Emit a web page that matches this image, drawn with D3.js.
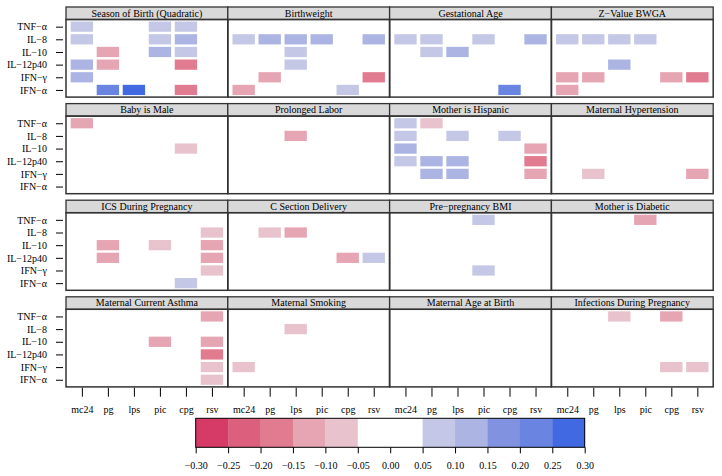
<!DOCTYPE html>
<html><head><meta charset="utf-8">
<script src="https://cdn.jsdelivr.net/npm/d3@7/dist/d3.min.js"></script>
<style>body{margin:0;background:#fff} svg{display:block}</style>
</head><body><svg id="c" width="722" height="476"></svg>
<script>
const stimuli = ["mc24","pg","lps","pic","cpg","rsv"];
const cytokines = ["TNF−α","IL−8","IL−10","IL−12p40","IFN−γ","IFN−α"];
const panelTitles = ["Season of Birth (Quadratic)","Birthweight","Gestational Age","Z−Value BWGA",
  "Baby is Male","Prolonged Labor","Mother is Hispanic","Maternal Hypertension",
  "ICS During Pregnancy","C Section Delivery","Pre−pregnancy BMI","Mother is Diabetic",
  "Maternal Current Asthma","Maternal Smoking","Maternal Age at Birth","Infections During Pregnancy"];
// rows: cytokines, columns: stimuli
const seasonOfBirth = [[0.075,0,0,0.075,0.075,0],[0.075,0,0,0.075,0.125,0],[0,-0.125,0,0.125,0.075,0],[0.125,-0.125,0,0,-0.19,0],[0.125,0,0,0,0,0],[0,0.225,0.275,0,-0.19,0]];
const birthweight = [[0,0,0,0,0,0],[0.075,0.125,0.125,0.125,0,0.125],[0,0,0.075,0,0,0],[0,0,0.075,0,0,0],[0,-0.125,0,0,0,-0.19],[-0.125,0,0,0,0.075,0]];
const gestationalAge = [[0,0,0,0,0,0],[0.075,0.075,0,0.075,0,0.125],[0,0.075,0.125,0,0,0],[0,0,0,0,0,0],[0,0,0,0,0,0],[0,0,0,0,0.225,0]];
const zValueBWGA = [[0,0,0,0,0,0],[0.075,0.075,0.075,0.075,0,0],[0,0,0,0,0,0],[0,0,0.125,0,0,0],[-0.125,-0.125,0,0,-0.125,-0.19],[-0.125,0,0,0,0,0]];
const babyIsMale = [[-0.125,0,0,0,0,0],[0,0,0,0,0,0],[0,0,0,0,-0.075,0],[0,0,0,0,0,0],[0,0,0,0,0,0],[0,0,0,0,0,0]];
const prolongedLabor = [[0,0,0,0,0,0],[0,0,-0.125,0,0,0],[0,0,0,0,0,0],[0,0,0,0,0,0],[0,0,0,0,0,0],[0,0,0,0,0,0]];
const motherHispanic = [[0.075,-0.075,0,0,0,0],[0.075,0,0.075,0,0.075,0],[0.125,0,0,0,0,-0.125],[0.075,0.125,0.125,0,0,-0.19],[0,0.125,0.125,0,0,-0.125],[0,0,0,0,0,0]];
const maternalHypertension = [[0,0,0,0,0,0],[0,0,0,0,0,0],[0,0,0,0,0,0],[0,0,0,0,0,0],[0,-0.075,0,0,0,-0.125],[0,0,0,0,0,0]];
const icsPregnancy = [[0,0,0,0,0,0],[0,0,0,0,0,-0.075],[0,-0.125,0,-0.075,0,-0.125],[0,-0.125,0,0,0,-0.125],[0,0,0,0,0,-0.075],[0,0,0,0,0.075,0]];
const cSection = [[0,0,0,0,0,0],[0,-0.075,-0.125,0,0,0],[0,0,0,0,0,0],[0,0,0,0,-0.125,0.075],[0,0,0,0,0,0],[0,0,0,0,0,0]];
const prePregnancyBMI = [[0,0,0,0.075,0,0],[0,0,0,0,0,0],[0,0,0,0,0,0],[0,0,0,0,0,0],[0,0,0,0.075,0,0],[0,0,0,0,0,0]];
const motherDiabetic = [[0,0,0,-0.125,0,0],[0,0,0,0,0,0],[0,0,0,0,0,0],[0,0,0,0,0,0],[0,0,0,0,0,0],[0,0,0,0,0,0]];
const maternalAsthma = [[0,0,0,0,0,-0.125],[0,0,0,0,0,0],[0,0,0,-0.125,0,-0.125],[0,0,0,0,0,-0.19],[0,0,0,0,0,-0.075],[0,0,0,0,0,-0.075]];
const maternalSmoking = [[0,0,0,0,0,0],[0,0,-0.075,0,0,0],[0,0,0,0,0,0],[0,0,0,0,0,0],[-0.075,0,0,0,0,0],[0,0,0,0,0,0]];
const maternalAge = [[0,0,0,0,0,0],[0,0,0,0,0,0],[0,0,0,0,0,0],[0,0,0,0,0,0],[0,0,0,0,0,0],[0,0,0,0,0,0]];
const infections = [[0,0,-0.075,0,-0.125,0],[0,0,0,0,0,0],[0,0,0,0,0,0],[0,0,0,0,0,0],[0,0,0,0,-0.075,-0.075],[0,0,0,0,0,0]];
const panelValues = [seasonOfBirth,birthweight,gestationalAge,zValueBWGA,babyIsMale,prolongedLabor,motherHispanic,maternalHypertension,
  icsPregnancy,cSection,prePregnancyBMI,motherDiabetic,maternalAsthma,maternalSmoking,maternalAge,infections];
const legendBreaks = [-0.30,-0.25,-0.20,-0.15,-0.10,-0.05,0.00,0.05,0.10,0.15,0.20,0.25,0.30];
const binColors = ["#d63a66","#dc607d","#e17b90","#e6a5b3","#e8c3cd","#ffffff","#ffffff","#c4c8e6","#acb4e4","#8193e0","#6a84e2","#4169e1"];

const FONT = "'Liberation Serif', 'Times New Roman', Times, serif";
const svg = d3.select("#c");
const color = d3.scaleThreshold().domain(legendBreaks.slice(1,-1)).range(binColors);

const left0 = 66, panelW = 161.8, top0 = 7, rowStep = 96.6, stripH = 12.5, bodyH = 77.6;
const nCol = 4;
const border = "#333";

panelTitles.forEach((title, i) => {
  const c = i % nCol, r = Math.floor(i / nCol);
  const px = left0 + c * panelW, py = top0 + r * rowStep;
  const bodyTop = py + stripH;
  const x = d3.scalePoint().domain(stimuli).range([px, px + panelW]).padding(0.61);
  const y = d3.scalePoint().domain(cytokines).range([bodyTop, bodyTop + bodyH]).padding(0.565);
  const cw = x.step() * 0.86, ch = y.step() * 0.81;
  const g = svg.append("g");
  g.append("rect").attr("x", px).attr("y", py).attr("width", panelW).attr("height", stripH)
    .attr("fill", "#d9d9d9").attr("stroke", border).attr("stroke-width", 1.3);
  g.append("text").attr("x", px + panelW / 2).attr("y", py + stripH / 2 + 3.4)
    .attr("text-anchor", "middle").text(title);
  const cells = [];
  panelValues[i].forEach((row, ri) => row.forEach((v, ci) => { if (v !== 0) cells.push({cy: cytokines[ri], st: stimuli[ci], v}); }));
  g.selectAll("rect.cell").data(cells).join("rect").attr("class", "cell")
    .attr("x", d => x(d.st) - cw / 2).attr("y", d => y(d.cy) - ch / 2)
    .attr("width", cw).attr("height", ch).attr("fill", d => color(d.v));
  g.append("rect").attr("x", px).attr("y", bodyTop).attr("width", panelW).attr("height", bodyH)
    .attr("fill", "none").attr("stroke", border).attr("stroke-width", 1.5);
  if (c === 0) {
    const ax = svg.append("g").attr("transform", `translate(${px - 3},0)`)
      .call(d3.axisLeft(y).tickSize(7).tickPadding(9));
    ax.select(".domain").remove();
    ax.selectAll("line").attr("stroke", "#000");
  }
  if (r === 3) {
    const ax = svg.append("g").attr("transform", `translate(0,${bodyTop + bodyH + 0.8})`)
      .call(d3.axisBottom(x).tickSize(9).tickPadding(9));
    ax.select(".domain").remove();
    ax.selectAll("line").attr("stroke", "#000");
  }
});

// colour key
const kx = d3.scaleLinear().domain([-0.30, 0.30]).range([195.7, 584.7]);
const kTop = 418.3, kH = 29;
const bins = d3.pairs(legendBreaks).map((p, i) => ({a: p[0], b: p[1], col: binColors[i]}));
svg.append("g").selectAll("rect").data(bins).join("rect")
  .attr("x", d => kx(d.a)).attr("y", kTop).attr("width", d => kx(d.b) - kx(d.a) + 0.3).attr("height", kH)
  .attr("fill", d => d.col);
svg.append("rect").attr("x", kx(-0.30)).attr("y", kTop).attr("width", kx(0.30) - kx(-0.30)).attr("height", kH)
  .attr("fill", "none").attr("stroke", "#000").attr("stroke-width", 1);
const kax = svg.append("g").attr("transform", `translate(0,${kTop + kH})`)
  .call(d3.axisBottom(kx).tickValues(legendBreaks).tickSize(6).tickPadding(9).tickFormat(d => d3.format(".2f")(d).replace("-", "−")));
kax.select(".domain").remove();
kax.selectAll("line").attr("stroke", "#000");

svg.selectAll("g").attr("font-family", FONT).attr("font-size", 10);
svg.selectAll("text").attr("font-family", FONT).attr("font-size", 10).attr("fill", "#000")
  .style("font-family", FONT).style("font-size", "10px");
</script></body></html>
